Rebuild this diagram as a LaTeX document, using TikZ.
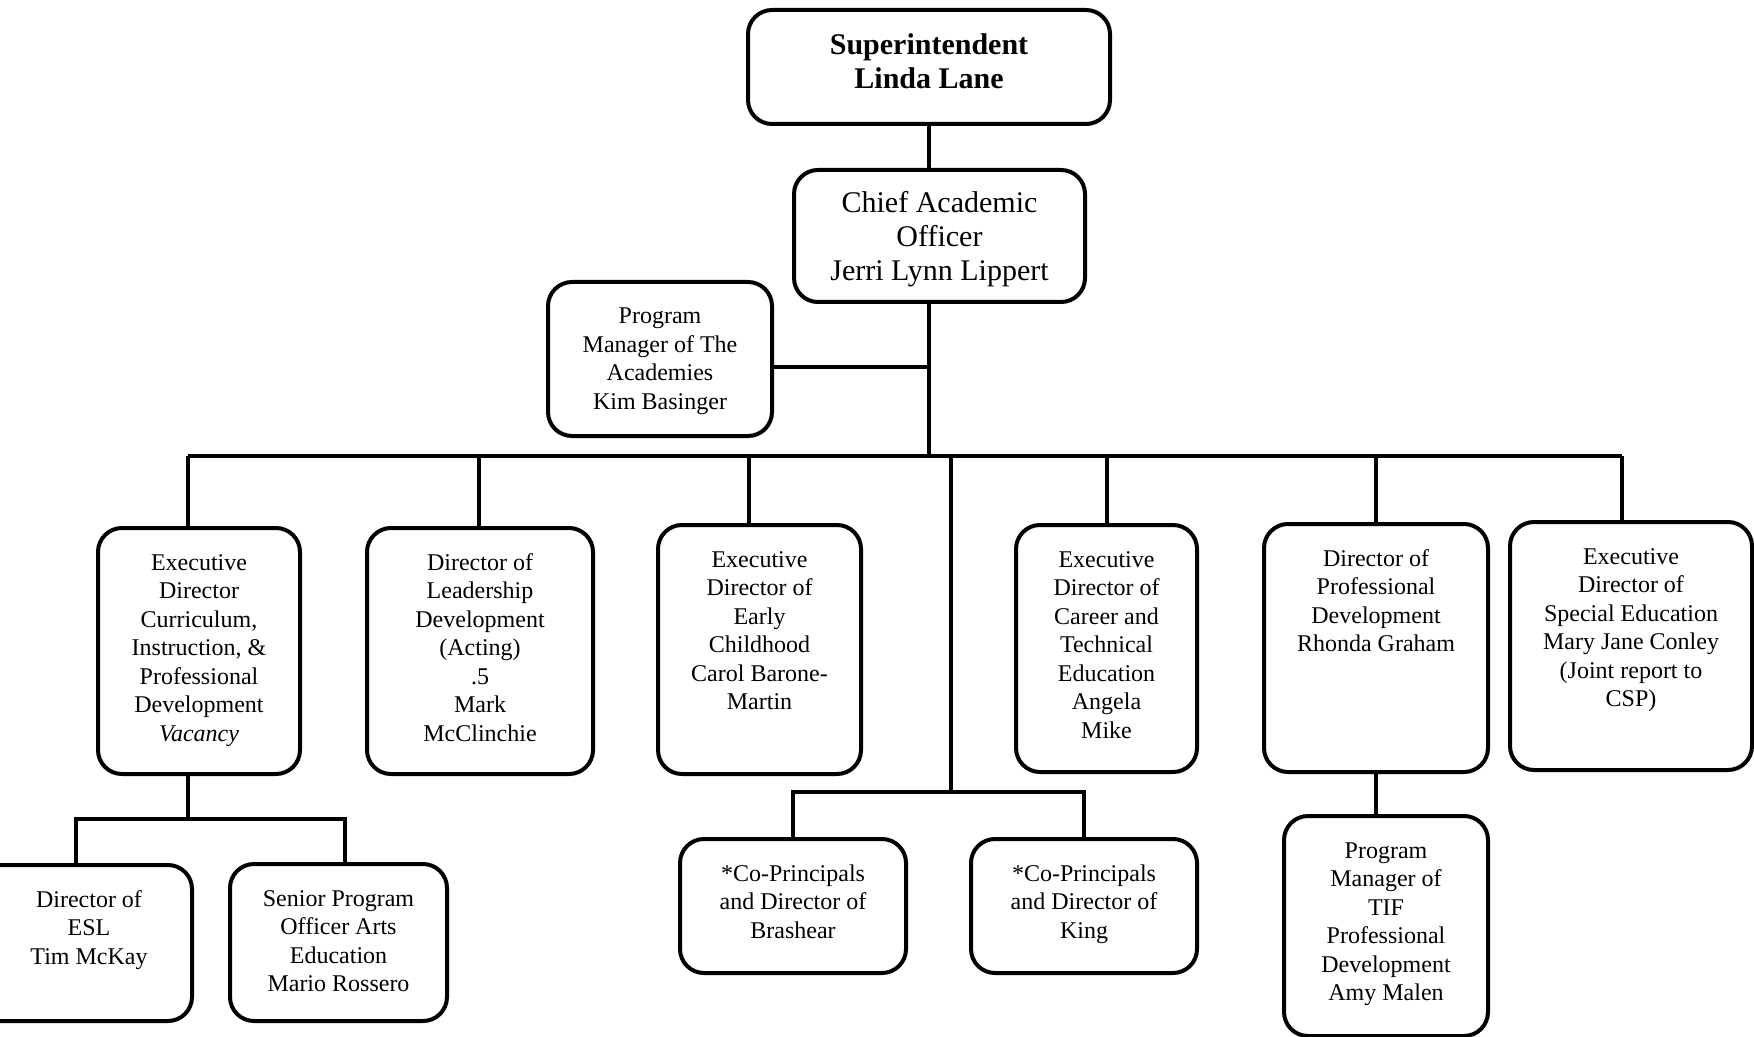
\documentclass[tikz,border=0pt]{standalone}
\usepackage{fontspec}
\setmainfont{Liberation Serif}
\newcommand{\poslines}[1]{\begin{tabular}[t]{@{}c@{}}#1\end{tabular}}

\begin{document}
\begin{tikzpicture}[x=0.5pt,y=-0.5pt,
  posbox/.style={draw,line width=2pt,rounded corners=12pt,anchor=north,
    inner xsep=4pt,inner ysep=10pt,text height=11pt,
    font=\fontsize{12}{14.25}\selectfont},
  bigbox/.style={posbox,text height=11.5pt,font=\fontsize{15}{17}\selectfont},
  wire/.style={line width=1.8pt}]
\fill[white] (0,0) rectangle (1754,1037);
\useasboundingbox (0,0) rectangle (1754,1037);
\clip (0,0) rectangle (1754,1037);

\node [bigbox,minimum width=181pt,text height=12.5pt,text depth=24.5pt,
  font=\fontsize{15}{17}\selectfont\bfseries] (sup) at (929,8) {\poslines{Superintendent\\Linda Lane}};
\node [bigbox,minimum width=145.5pt,text depth=34.5pt] (cao) at (939.5,168) {\poslines{Chief Academic\\Officer\\Jerri Lynn Lippert}};
\node [posbox,minimum width=112pt,text depth=46pt] (pma) at (660,280) {\poslines{Program\\Manager of The\\Academies\\Kim Basinger}};

\node [posbox,minimum width=101pt,text depth=92pt] (ed1) at (199,526) {\poslines{Executive\\Director\\Curriculum,\\Instruction, \&\\Professional\\Development\\\textit{Vacancy}}};
\node [posbox,minimum width=113pt,text depth=92pt] (ed2) at (480,526) {\poslines{Director of\\Leadership\\Development\\(Acting)\\.5\\Mark\\McClinchie}};
\node [posbox,minimum width=101.5pt,text depth=93.5pt] (ed3) at (759.5,523) {\poslines{Executive\\Director of\\Early\\Childhood\\Carol Barone-\\Martin}};
\node [posbox,minimum width=90.5pt,text depth=92.5pt] (ed4) at (1106.5,523) {\poslines{Executive\\Director of\\Career and\\Technical\\Education\\Angela\\Mike}};
\node [posbox,minimum width=112pt,text depth=93pt] (ed5) at (1376,522) {\poslines{Director of\\Professional\\Development\\Rhonda Graham}};
\node [posbox,minimum width=121pt,text depth=93pt] (ed6) at (1631,520) {\poslines{Executive\\Director of\\Special Education\\Mary Jane Conley\\(Joint report to\\CSP)}};

\node [posbox,minimum width=132pt,text depth=47pt] (esl) at (60,863) {\hspace*{29pt}\poslines{Director of\\ESL\\Tim McKay}};
\node [posbox,minimum width=108.5pt,text depth=47.5pt] (sen) at (338.5,862) {\poslines{Senior Program\\Officer Arts\\Education\\Mario Rossero}};
\node [posbox,minimum width=113pt,text depth=36pt] (cp1) at (793,837) {\poslines{*Co-Principals\\and Director of\\Brashear}};
\node [posbox,minimum width=113pt,text depth=36pt] (cp2) at (1084,837) {\poslines{*Co-Principals\\and Director of\\King}};
\node [posbox,minimum width=102pt,text depth=79pt] (tif) at (1386,814) {\poslines{Program\\Manager of\\TIF\\Professional\\Development\\Amy Malen}};

\coordinate (spine) at (929,456);
\coordinate (pmj) at (929,367);
\coordinate (busl) at (188,456);
\coordinate (busr) at (1622,456);
\coordinate (cpj) at (951,792);
\coordinate (cuj) at (188,819);
\coordinate (eslj) at (76,819);
\coordinate (senj) at (345,819);

\draw[wire] (sup.south) -- (sup.south |- cao.north);
\draw[wire] (spine |- cao.south) -- (spine);
\draw[wire] (pmj -| pma.east) -- (pmj);
\draw[wire] (busl) -- (busr);
\foreach \n/\x in {ed1/188,ed2/479,ed3/749,ed4/1107,ed5/1376,ed6/1622}{
  \coordinate (drop) at (\x,456);
  \draw[wire] (drop) -- (drop |- \n.north);
}
\draw[wire] (cpj |- spine) -- (cpj);
\draw[wire] (cp1.north) |- (cpj) -| (cp2.north);
\draw[wire] (cuj |- ed1.south) -- (cuj);
\draw[wire] (eslj |- esl.north) -- (eslj) -- (senj) -- (senj |- sen.north);
\draw[wire] (ed5.south) -- (ed5.south |- tif.north);
\end{tikzpicture}
\end{document}
